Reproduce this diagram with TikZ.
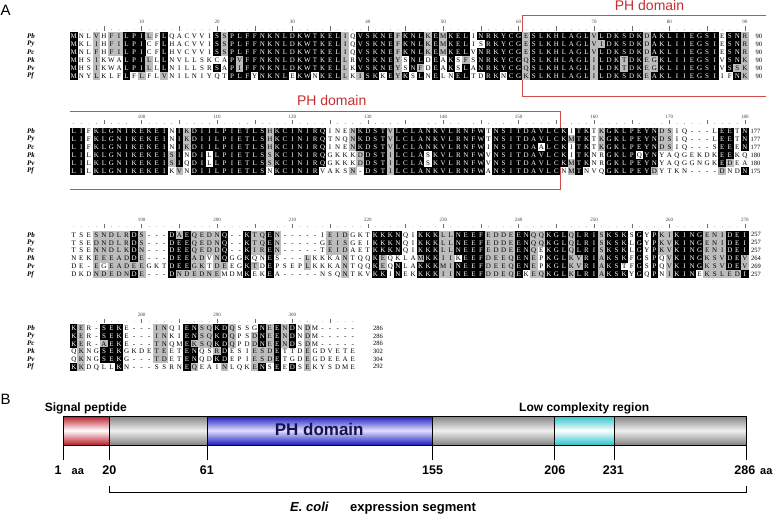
\documentclass[tikz,border=0pt]{standalone}
\usepackage{fontspec}
\setmainfont{Liberation Serif}
\newfontfamily\arialf{Liberation Sans}
\definecolor{phred}{RGB}{200,45,45}
\definecolor{shgrey}{RGB}{188,188,188}
\definecolor{rulerc}{RGB}{110,110,110}
\definecolor{sigred}{RGB}{185,25,40}
\definecolor{bargrey}{RGB}{130,130,130}
\definecolor{barblue}{RGB}{25,25,190}
\definecolor{barcyan}{RGB}{40,195,200}
\definecolor{navy}{RGB}{20,20,80}

\newcount\colc
\def\Bm{b}\def\Gm{g}\def\Wm{w}\def\Dash{-}
\def\resf{\fontsize{7}{8}\selectfont}
\def\seqline#1#2#3{\global\colc=0 \def\curmode{w}\def\rowy{#2}\def\rowid{#1}\rdo#3\relax}
\def\rdo#1{\ifx#1\relax\let\nxt\relax\else\def\nxt{\dotok{#1}\rdo}\fi\nxt}
\def\dotok#1{\def\tmp{#1}%
  \ifx\tmp\Bm\def\curmode{b}\let\act\relax
  \else\ifx\tmp\Gm\def\curmode{g}\let\act\relax
  \else\ifx\tmp\Wm\def\curmode{w}\let\act\relax
  \else\def\act{\putres{#1}}\fi\fi\fi\act}
\def\putres#1{\global\advance\colc by 1 \def\tmp{#1}%
  \ifx\tmp\Dash\def\rs{resw}\else\edef\rs{res\curmode}\fi
  \expandafter\drawres\expandafter{\rs}{#1}}
\def\drawres#1#2{\node[#1] (\rowid c\the\colc) at ({73.8+(\the\colc-1)*7.54},\rowy) {#2};}

\newcommand\rulerrow[5]{% #1 id, #2 start, #3 ncols, #4 y numbers, #5 y dots
  \foreach \j in {1,...,#3}{
    \pgfmathtruncatemacro\mfive{mod(\j,5)}
    \pgfmathtruncatemacro\mten{mod(\j,10)}
    \pgfmathsetmacro\xx{73.8+(\j-1)*7.54}
    \ifnum\mfive=0 \draw[rulerc, line width=0.4pt] (\xx,#5-3.3) -- (\xx,#5+0.8);\else\fill[rulerc] (\xx,#5) circle[radius=0.35pt];\fi
    \ifnum\mten=0 \pgfmathtruncatemacro\nn{#2+\j-1}\node[rulnum] (#1n\nn) at (\xx,#4) {\nn};\fi
  }}

\begin{document}
\begin{tikzpicture}[x=1pt,y=-1pt,
  resw/.style={font=\resf, inner sep=0pt, minimum width=7.7pt, minimum height=8pt, text height=4.6pt, text depth=0pt},
  resb/.style={resw, fill=black, text=white},
  resg/.style={resw, fill=shgrey, text=black},
  spname/.style={font=\fontsize{7}{8}\selectfont\bfseries\itshape, anchor=west, inner sep=0pt},
  endnum/.style={font=\fontsize{6.5}{7}\selectfont, anchor=west, inner sep=0pt},
  rulnum/.style={font=\fontsize{5}{6}\selectfont, inner sep=0pt, text=black!75},
  phlab/.style={font=\arialf\fontsize{14}{16}\selectfont, text=phred, anchor=base, inner sep=0pt},
  phbox/.style={draw=phred!85, line width=0.75pt},
  panel/.style={font=\arialf\fontsize{15}{17}\selectfont, anchor=base west, inner sep=0pt},
  blab/.style={font=\arialf\bfseries\fontsize{12}{14}\selectfont, anchor=base, inner sep=0pt},
  numlab/.style={font=\arialf\bfseries\fontsize{12.5}{14}\selectfont, anchor=base, inner sep=0pt},
  segline/.style={draw=black, line width=0.6pt}
]
\useasboundingbox (0,0) rectangle (778,516);

% ---------------- Panel A -----------------
\node[panel] (pA) at (0.5,16) {A};

% PH domain boxes
\draw[phbox] (766,15) -- (522.5,15) -- (522.5,96.7) -- (766,96.7);
\draw[phbox] (70,111.7) -- (560.2,111.7) -- (560.2,189.3) -- (70,189.3);
\node[phlab] (ph1) at (649.5,11) {PH domain};
\node[phlab] (ph2) at (331.7,105.7) {PH domain};

% rulers
\rulerrow{r1}{1}{90}{22}{29.8}
\rulerrow{r2}{91}{90}{116.7}{123.5}
\rulerrow{r3}{181}{90}{220}{226.8}
\rulerrow{r4}{271}{38}{315}{321.8}

% species labels and end numbers
\foreach \sname/\yy/\nn [count=\k] in {Pb/36.2/90, Py/44.15/90, Pc/52.1/90, Pk/60.05/90, Pv/68/90, Pf/75.95/90}{
  \node[spname] (lab1\k) at (27,\yy) {\sname};
  \node[endnum] (end1\k) at (755.5,\yy) {\nn};}
\foreach \sname/\yy/\nn [count=\k] in {Pb/131.5/177, Py/139.4/177, Pc/147.3/177, Pk/155.2/180, Pv/163.1/180, Pf/171/175}{
  \node[spname] (lab2\k) at (27,\yy) {\sname};
  \node[endnum] (end2\k) at (750.5,\yy) {\nn};}
\foreach \sname/\yy/\nn [count=\k] in {Pb/234.8/257, Py/242.7/257, Pc/250.6/257, Pk/258.5/264, Pv/266.4/269, Pf/274.3/257}{
  \node[spname] (lab3\k) at (27,\yy) {\sname};
  \node[endnum] (end3\k) at (751,\yy) {\nn};}
\foreach \sname/\yy/\nn [count=\k] in {Pb/328.3/286, Py/336/286, Pc/343.7/286, Pk/351.4/302, Pv/359.1/304, Pf/366.8/292}{
  \node[spname] (lab4\k) at (27,\yy) {\sname};
  \node[endnum] (end4\k) at (373,\yy) {\nn};}

% block 1 (1-90)
\seqline{Pb1}{36.2}{bM wNL gV wH gFI bLPI gL wF bL wQACVVI bS gS bPLFFNKNLDKWTKEL gI wQ bVSKNE gF bKNL gK bE gM bKEL wI bNRKYCG gE bSLKHLAGL gV bLDKSDK gD bAKLIIEGSI wE bSN gR}
\seqline{Py1}{44.15}{bM wKL gI wH gFI bLPI wCF bL wHACVVI bS gS bPLFFNKNLDKWTKEL gI wQ bVSKNE gF bKNL gK bE gM bKEL wIS bRKYCG gE bSLKHLAGL gVI bDKSDK gD bAKLIIEGSI wE bSN gR}
\seqline{Pc1}{52.1}{bM wNL gF wH gFI bLPI wCF bL wHVCVVI bS gS bPLFFNKNLDKWTKEL gI wQ bVSKNE gF bKNL gK bE gM bKEL wV bNRKYCG gE bSLKHLAGL gV bLDKSDK gD bAKLIIEGSI wE bSN gR}
\seqline{Pk1}{60.05}{bM wHS gI wKWA bLPI gL wL bL wNVLLSKCA bP gV bFFNKNLDKWTKEL gL wR bVSKNE gY wS bNL wD bE wA bK wS gF wS bNRKYCG gQ bSLKHLAGL gI bLDK gT bDK gEG bKLIIEGSI wV bSN gK}
\seqline{Pv1}{68}{bM wHS gI wKWA bLPI gL wL bL wNILLSR bS wA bP gI bFFNKNLDKWTKEL gL wK bVSKNE gY wS bN gF wD bE wA bK wS bL wA bNRKYCG gQ bSLKHLAGL gI bLDK gT bDK gEG bKLIIEGSI wV bS gSK}
\seqline{Pf1}{75.95}{bM wNY gL wKLF bL wF gL wFL gV wNILNIYQT bPLF wY bNKNL wE bKW wN bKEL gL wK gI bSK wK bE gY bK wS bL wN bE wLN bEL wTD bRK wN bCG gK bSLKHLAGL gI bLDKSDK gE bAKLIIEGSI wIF bN gK}

% block 2 (91-180)
\seqline{Pb2}{131.5}{bLI wF bKLGNIKEKEI wN bI gK bDIILPIETLS gH bKCINIRQ wINE gN bKDST gV bLCLANKVLRNFW wT bNSITDAVLCK wI bTK wT gK bGKLPEYN gDS wIQ---L bEE wT bN}
\seqline{Py2}{139.4}{bLI wF bKLGNIKEKEI wN bI gK bDIILPIETLS gH bKCINIRQ wTNQ gN bKDST gV bLCLANKVLRNFW wT bNSITDAVLCK gM bTK wT gK bGKLPEYN gDS wIQ---L bEE wT bN}
\seqline{Pc2}{147.3}{bLI wF bKLGNIKEKEI wN bI gK bDIILPIETLS gH bKCINIRQ wINE gN bKDST gV bLCLANKVLRNFW wI bNSITDA wA bLCK wI bTK wT gK bGKLPEYN gDS wIQ---S bEE wE bN}
\seqline{Pk2}{155.2}{bLI wL bKLGNIKEKEI gS bI wN bDI wL bLPIETLS gS bKCINIRQ wGKKK gD bDST gI bLCLA wS bKVLRNFW wV bNSITDAVLCK wI bTK wNR bGKLP wQ bYN wYAQGEKDK bEE wKQ}
\seqline{Pv2}{163.1}{bLI wL bKLGNIKEKEI gS bI wQ bDI wL bLPIETLS gS bKCINIRQ wGKKK gD bDST gI bLCLA wS bKVLRNFW wV bNSITDAVLCK gM bTK wNR bGKLPEYN wYAQGGNGK bE gD wEA}
\seqline{Pf2}{171}{bLI wL bKLGNIKEKEI wK gV wN bDIILPIETLS wN bKCINIR wVAKS gN w- bDST gI bLCLANKVLRNFW wA bNSITDAVLC wN gM bT wNVQ bGKLPEY gD wYTKN---- gD wND bN}

% block 3 (181-270)
\seqline{Pb3}{234.8}{wTSE gSNDLR bD gS w--- bD gA bE gQEDN bQ w-- bK gTQ bE gN w-----I gEID wGKT bKKKN wQI bKKK gLL bNEEF gEDDE bEN gQQ bKGL gQ bLRI gS bKSK wS bG wY bP gKI bKING gENI bDEI}
\seqline{Py3}{242.7}{wTSE gDNDLR bD gS w--- bDEE gQEDN bQ w-- bK gTQ bE gN w-----G gEIS wGEI bKKKN wQI bKKK gLL bNEEF gEDDE bEN gQQ bKGL gQ bLRI gS bKSK wL bG wY bP gKV bKING gENI bDEI}
\seqline{Pc3}{250.6}{wTSE gNNDLK bD gN w--- bDEE gQEDD bQ w-- bK gIR bE gN w-----T gEID wAET bKKKN wQI bKKK gLL bNEEF gEDDE bEN gQ wE bKGL gQ bLRI gS bKSK wL bG wY bP gKV bKING gENI bDEI}
\seqline{Pk3}{258.5}{wNEK gEEEAD bD gE w--- bDEE gAD wV gN bQ wGG bK wQN bE wS--- gL wKKKA gN wTQQ bK gE wQKLA gM bKK gII wK bEEF gDEEQ bEN gE wP bKGL gKV bRI gA bKSK wF bG wS bP wQ gV bKING gKSV bDE gV}
\seqline{Pv3}{266.4}{wDE- gE wG gEADEE wGKT bDEE gGK wT gDE wEG bK gT wD bE wPSEP gL wKKKA gN wTQQ bK gE wQ bN wLA bKKK gMI bNEEF gDEEQ bEN gE wP bKGL gKV bRI gA bKS wTF bG wS bP wQ gV bKING gKSV bDE gV}
\seqline{Pf3}{274.3}{wDKD gNDEDN bD gE w--- bD gNDEDNE wMDM bK wEK bE wA-----NSQ gN wTKV bKK wI bN wEK bKKK gII bNEEF gDDEQ bE wK gEQ bKGL gK bLRI gA bKSK wY bG wQ bP wN gI bKIN wE gKSLED bI}

% block 4 (271-308)
\seqline{Pb4}{328.3}{bK gE wR- bSEK wE--- gIN wQI bEN gSQ bKD gQ wSSG bN gE bE gN bD wN gD wM-----}
\seqline{Py4}{336}{bK gE wR- bSEK wE--- gIN wKI bEN gSQ bKD gQ wPS gD bN gE bE gN bD wN gD wM-----}
\seqline{Pc4}{343.7}{bK gE wR- gA bEK wE--- gTN wQM bE gKSQ bKD gQ wPD gD bN gE bE gN bD wS gD wM-----}
\seqline{Pk4}{351.4}{wQ gK wNG bSEK wGKDE gTE wET bEN wQS gR bD wESI gESD bE wTTD gE wGDVETE}
\seqline{Pv4}{359.1}{wQ gK wNG bSEK wG--- gTD wET bEN wQD bKD wEPI gESD bE wTGD gE wGDEEAE}
\seqline{Pf4}{366.8}{bK gK wDQLL bK wN--- wSSRN bE gQ wEAI gN wLQK gE bN wS bE wE bD wS gE wKYSDME}

% ---------------- Panel B -----------------
\node[panel] (pB) at (0.5,404) {B};
\node[blab] (sigp) at (85.8,411.5) {Signal peptide};
\node[blab] (lowc) at (584.2,411) {Low complexity region};

\shadedraw[top color=sigred, bottom color=sigred, middle color=white, segline] (63.3,416) rectangle (109.3,445);
\shadedraw[top color=bargrey, bottom color=bargrey, middle color=white!94!black, segline] (109.3,416) rectangle (207.3,445);
\shadedraw[top color=barblue, bottom color=barblue, middle color=blue!12!white, segline] (207.3,416) rectangle (432.3,445);
\shadedraw[top color=bargrey, bottom color=bargrey, middle color=white!94!black, segline] (432.3,416) rectangle (554.3,445);
\shadedraw[top color=barcyan, bottom color=barcyan, middle color=white, segline] (554.3,416) rectangle (614,445);
\shadedraw[top color=bargrey, bottom color=bargrey, middle color=white!94!black, segline] (614,416) rectangle (746.7,445);
\node[font=\arialf\bfseries\fontsize{17}{19}\selectfont, text=navy, anchor=base, inner sep=0pt] (phd) at (319.2,435.5) {PH domain};

\foreach \xx in {63.3,109.3,207.3,432.3,554.3,614,746.7}{\draw[segline] (\xx,445) -- (\xx,460);}

\node[numlab, anchor=base west] (n1) at (54.5,474) {1};
\node[font=\arialf\bfseries\fontsize{11}{13}\selectfont, anchor=base west, inner sep=0pt] (aa1) at (71.5,474) {aa};
\node[numlab] (n20) at (109.3,474) {20};
\node[numlab] (n61) at (206.8,474) {61};
\node[numlab] (n155) at (432.6,474) {155};
\node[numlab] (n206) at (554.8,474) {206};
\node[numlab] (n231) at (613.4,474) {231};
\node[numlab] (n286) at (744.8,474) {286};
\node[font=\arialf\bfseries\fontsize{11}{13}\selectfont, anchor=base west, inner sep=0pt] (aa2) at (760,474) {aa};

\coordinate (brL) at (109.3,486);
\coordinate (brR) at (746.7,486);
\draw[line width=0.7pt] (brL) -- ++(0,6.7) -| (brR);

\node[font=\arialf\bfseries\itshape\fontsize{13}{15}\selectfont, anchor=base west, inner sep=0pt] (ecoli) at (290,511) {E. coli};
\node[font=\arialf\bfseries\fontsize{13}{15}\selectfont, anchor=base west, inner sep=0pt] (expseg) at (350,511) {expression segment};
\end{tikzpicture}
\end{document}
